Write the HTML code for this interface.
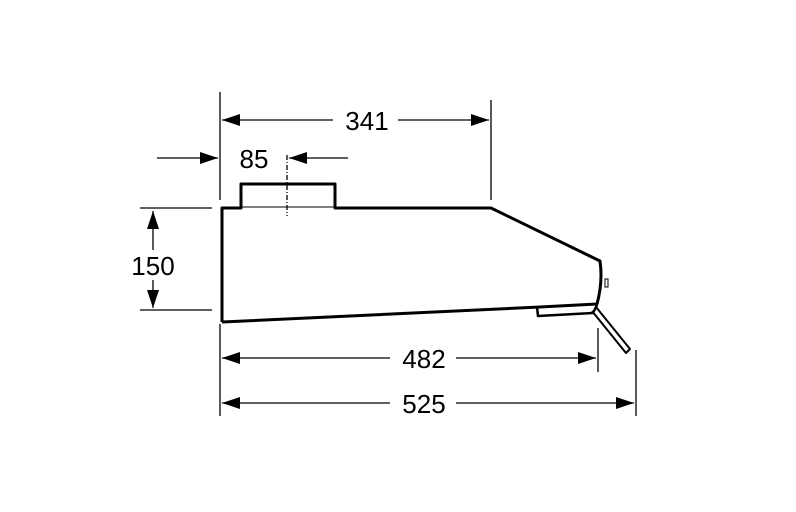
<!DOCTYPE html>
<html><head><style>body{margin:0;background:#fff}</style></head><body>
<svg width="796" height="507" viewBox="0 0 796 507" xmlns="http://www.w3.org/2000/svg" font-family="Liberation Sans, sans-serif">
<defs>
<marker id="b" viewBox="0 0 18 12" refX="18" refY="6" markerWidth="18" markerHeight="12" markerUnits="userSpaceOnUse" orient="auto-start-reverse"><path d="M0,0 L18,6 L0,12 z" fill="#000"/></marker></defs>
<g stroke="#000" stroke-width="1.3" fill="none">
<line x1="220" y1="92" x2="220" y2="200"/>
<line x1="220" y1="324" x2="220" y2="416"/>
<line x1="491" y1="100" x2="491" y2="200"/>
<line x1="598" y1="328" x2="598" y2="372"/>
<line x1="636" y1="350" x2="636" y2="416"/>
<line x1="140" y1="208" x2="212" y2="208"/>
<line x1="140" y1="310" x2="212" y2="310"/>
<line x1="287" y1="155" x2="287" y2="216" stroke-dasharray="5,2,1,2"/>
<line x1="222" y1="120" x2="333" y2="120" marker-start="url(#b)"/>
<line x1="398" y1="120" x2="489" y2="120" marker-end="url(#b)"/>
<line x1="157" y1="158" x2="218" y2="158" marker-end="url(#b)"/>
<line x1="348" y1="158" x2="289" y2="158" marker-end="url(#b)"/>
<line x1="153" y1="211" x2="153" y2="250" marker-start="url(#b)"/>
<line x1="153" y1="280" x2="153" y2="308" marker-end="url(#b)"/>
<line x1="222" y1="358" x2="390" y2="358" marker-start="url(#b)"/>
<line x1="456" y1="358" x2="596" y2="358" marker-end="url(#b)"/>
<line x1="222" y1="403" x2="390" y2="403" marker-start="url(#b)"/>
<line x1="456" y1="403" x2="634" y2="403" marker-end="url(#b)"/>
</g>
<g stroke="#000" stroke-width="3" fill="none" stroke-linejoin="round">
<path d="M222,322 L222,208 L241,208 L241,184 L335,184 L335,208 L491,208 L600,261 Q603,282 597,304 L540,307 L222,322"/>
<path d="M537,307 L538,316 L593,313 L597,305" stroke-width="2.5"/>
<path d="M596,307 L630,349 L626,353 L592,311" stroke-width="2"/>
</g>
<line x1="241" y1="207" x2="335" y2="207" stroke="#000" stroke-width="1"/>
<rect x="605" y="279" width="3" height="8" fill="#fff" stroke="#000" stroke-width="1"/>
<g font-size="26" fill="#000" text-anchor="middle">
<text x="367" y="130">341</text>
<text x="254" y="168">85</text>
<text x="153" y="275">150</text>
<text x="424" y="368">482</text>
<text x="424" y="413">525</text>
</g>
</svg>
</body></html>
